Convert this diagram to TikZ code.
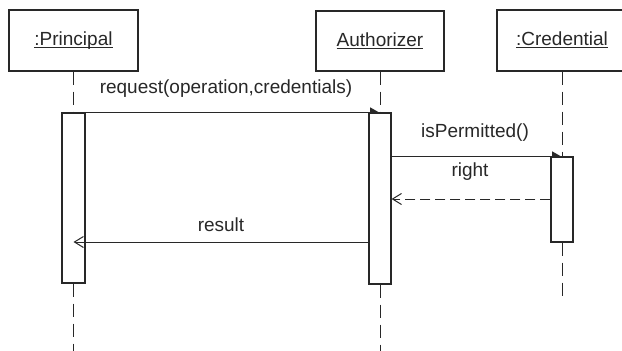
\documentclass[tikz,border=0pt]{standalone}
\usepackage{fontspec}
\setmainfont{Liberation Sans}
\usetikzlibrary{arrows.meta}
\definecolor{ink}{RGB}{40,40,40}
\newcommand\ulname[1]{\setbox0\hbox{#1}\rlap{\rule[-2.5pt]{\wd0}{0.9pt}}\box0}
\begin{document}
\begin{tikzpicture}[x=1pt,y=-1pt,
  every node/.style={font=\fontsize{19}{21}\selectfont, text=ink},
  objbox/.style={draw=ink, line width=1.2pt, rectangle, fill=white, inner sep=0pt, text height=14pt, text depth=4pt},
  actbox/.style={draw=ink, line width=1.1pt, rectangle, fill=white, inner sep=0pt},
  lifeline/.style={draw=ink, line width=1pt, dash pattern=on 13pt off 7pt},
  msg/.style={draw=ink, line width=1pt, -{Triangle[length=9pt,width=10pt,harpoon]}},
  reply/.style={draw=ink, line width=1pt, -{Straight Barb[length=9pt,width=11pt]}},
  replydash/.style={reply, dash pattern=on 10pt off 5pt},
  lbl/.style={anchor=base, inner sep=0pt}]
\useasboundingbox (0,0) rectangle (622,351);
\clip (0,0) rectangle (622,351);
\fill[white] (0,0) rectangle (622,351);

% objects
\node[objbox, minimum width=129pt, minimum height=61pt] (P) at (73.5,40.5) {\ulname{:Principal}};
\node[objbox, minimum width=128pt, minimum height=60pt] (A) at (380,41) {\ulname{Authorizer}};
\node[objbox, minimum width=130pt, minimum height=61pt] (C) at (562,40.5) {\ulname{:Credential}};

% lifeline ends
\coordinate (Pend) at (73.5,351);
\coordinate (Aend) at (380,351);
\coordinate (Cend) at (562,302);

% activations
\node[actbox, minimum width=23pt, minimum height=170pt] (PA) at (73.5,198) {};
\node[actbox, minimum width=22pt, minimum height=171pt] (AA) at (380,198.5) {};
\node[actbox, minimum width=22pt, minimum height=85pt] (CA) at (562,199.5) {};

% lifelines
\draw[lifeline] (P.south) -- (PA.north);
\draw[lifeline] (PA.south) -- (Pend);
\draw[lifeline] (A.south) -- (AA.north);
\draw[lifeline] (AA.south) -- (Aend);
\draw[lifeline] (C.south) -- (CA.north);
\draw[lifeline] (CA.south) -- (Cend);

% message levels
\coordinate (y3) at (0,199);
\coordinate (y4) at (0,242);

% messages
\draw[msg] (PA.north east) -- (AA.north);
\draw[msg] (AA.east |- CA.north) -- (CA.north);
\draw[replydash] (CA.west |- y3) -- (AA.east |- y3);
\draw[reply] (AA.west |- y4) -- (PA.center |- y4);

% redraw activation tops over arrow lines
\draw[ink, line width=1.1pt] (AA.north west) -- (AA.north east);
\draw[ink, line width=1.1pt] (CA.north west) -- (CA.north east);

% labels
\node[lbl] (l1) at (226,93) {request(operation,credentials)};
\node[lbl] (l2) at (475,137) {isPermitted()};
\node[lbl] (l3) at (470,176) {right};
\node[lbl] (l4) at (221,231) {result};
\end{tikzpicture}
\end{document}
